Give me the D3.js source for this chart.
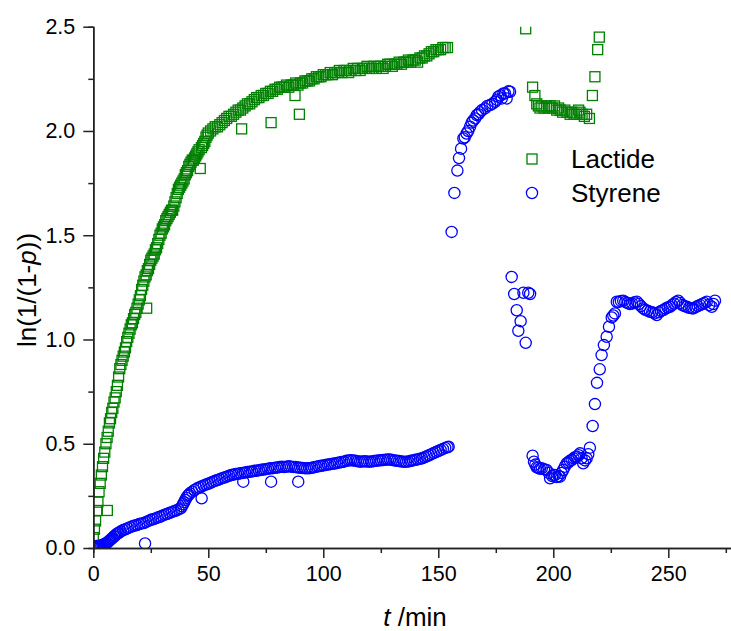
<!DOCTYPE html>
<html>
<head>
<meta charset="utf-8">
<script src="https://cdn.jsdelivr.net/npm/d3@7"></script>
<style>
body { margin: 0; background: #fff; }
text { font-family: "Liberation Sans", Arial, sans-serif; }
</style>
</head>
<body>
<svg id="chart" width="731" height="631"></svg>
<script>
// Lactide, [t (min), ln(1/(1-p))]
var lactide = [
  [0,0.05],[0.5,0.09],[1,0.13],[1.5,0.18],[2,0.22],[2.5,0.27],[3,0.31],[3.5,0.35],[4,0.39],[4.5,0.43],
  [5,0.46],[5.5,0.50],[6,0.53],[6.1,0.18],[6.5,0.56],[7,0.60],[7.5,0.62],[8,0.65],[8.5,0.67],[9,0.70],
  [9.5,0.72],[10,0.75],[10.5,0.78],[11,0.82],[11.5,0.86],[12,0.88],[12.5,0.90],[13,0.92],[13.5,0.94],[14,0.96],
  [14.5,0.99],[15,1.01],[15.5,1.03],[16,1.05],[16.5,1.07],[17,1.08],[17.5,1.10],[18,1.12],[18.5,1.13],[19,1.15],
  [19.5,1.17],[20,1.19],[20.5,1.21],[21,1.24],[21.5,1.26],[22,1.28],[22.5,1.30],[23,1.31],[23.2,1.15],[23.5,1.33],
  [24,1.34],[24.5,1.36],[25,1.38],[25.5,1.39],[26,1.40],[26.5,1.41],[27,1.43],[27.5,1.44],[28,1.46],[28.5,1.48],
  [29,1.50],[29.5,1.51],[30,1.53],[30.5,1.54],[31,1.55],[31.5,1.57],[32,1.58],[32.5,1.59],[33,1.60],[33.5,1.61],
  [34,1.62],[34.5,1.62],[35,1.64],[35.5,1.66],[36,1.68],[36.5,1.70],[37,1.72],[37.5,1.73],[38,1.74],[38.5,1.75],
  [39,1.76],[39.5,1.77],[40,1.79],[40.5,1.80],[41,1.81],[41.5,1.83],[42,1.84],[42.5,1.85],[43,1.86],[43.5,1.86],
  [44,1.87],[44.5,1.88],[45,1.89],[45.5,1.90],[46,1.91],[46.5,1.82],[47,1.92],[47.5,1.93],[48,1.94],[48.5,1.95],
  [49,1.97],[49.5,1.98],[50,1.99],[51,2.00],[52,2.01],[53,2.02],[54,2.02],[55,2.03],[56,2.04],[57,2.05],
  [58,2.06],[59,2.07],[60,2.07],[61,2.08],[62,2.09],[63,2.10],[64,2.10],[64.5,2.01],[65,2.11],[66,2.12],
  [67,2.13],[68,2.13],[69,2.14],[70,2.15],[71,2.16],[72,2.16],[73,2.17],[74,2.17],[75,2.18],[76,2.18],
  [77,2.19],[77.3,2.04],[78,2.19],[79,2.20],[80,2.20],[81,2.21],[82,2.21],[83,2.21],[84,2.22],[85,2.21],
  [86,2.22],[87,2.22],[87.7,2.17],[88,2.23],[89,2.22],[89.6,2.08],[90,2.23],[91,2.23],[92,2.24],[93,2.24],
  [94,2.24],[95,2.25],[96,2.25],[97,2.26],[98,2.26],[99,2.26],[100,2.27],[101,2.27],[102,2.27],[103,2.28],
  [104,2.27],[105,2.28],[106,2.28],[107,2.29],[108,2.28],[109,2.29],[110,2.29],[111,2.28],[112,2.29],[113,2.30],
  [114,2.29],[115,2.30],[116,2.29],[117,2.30],[118,2.30],[119,2.31],[120,2.30],[121,2.30],[122,2.31],[123,2.30],
  [124,2.31],[125,2.31],[126,2.30],[127,2.31],[128,2.32],[129,2.32],[130,2.31],[131,2.32],[132,2.32],[133,2.33],
  [134,2.32],[135,2.33],[136,2.33],[137,2.34],[138,2.33],[139,2.34],[140,2.34],[141,2.33],[142,2.35],[143,2.35],
  [144,2.36],[145,2.36],[146,2.37],[147,2.38],[148,2.38],[149,2.39],[150,2.39],[151,2.39],[152,2.40],[153,2.40],
  [154,2.40],
  [188,2.49],[191,2.21],[192,2.17],[192.8,2.13],[193.5,2.12],[194.2,2.11],[195,2.12],[196,2.11],[197,2.12],[198,2.11],
  [198.6,2.12],[199.5,2.11],[200.5,2.12],[201.5,2.10],[202.3,2.11],[203,2.10],[204,2.09],[205,2.10],[206,2.09],[207.3,2.08],
  [208,2.09],[209,2.08],[210,2.08],[211,2.10],[211.6,2.09],[212.5,2.08],[213.5,2.07],[214.5,2.08],[215.7,2.06],[217,2.17],
  [218.1,2.26],[219.3,2.39],[220,2.45]
];

// Styrene, [t (min), ln(1/(1-p))]
var styrene = [
  [0,0.0],[0.5,0.005],[1,0.005],[1.5,0.01],[2,0.01],[2.5,0.01],[3,0.01],[3.5,0.012],[4,0.015],[4.5,0.015],
  [5,0.02],[5.5,0.022],[6,0.025],[6.5,0.03],[7,0.035],[7.5,0.04],[8,0.045],[8.5,0.05],[9,0.055],[9.5,0.06],
  [10,0.065],[10.5,0.07],[11,0.072],[11.5,0.076],[12,0.08],[13,0.086],[14,0.09],[15,0.095],[16,0.10],[17,0.104],
  [18,0.108],[19,0.11],[20,0.115],[21,0.118],[22,0.12],[22.5,0.022],[23,0.125],[24,0.13],[25,0.135],[26,0.138],
  [27,0.142],[28,0.146],[29,0.15],[30,0.155],[31,0.16],[32,0.163],[33,0.168],[34,0.172],[35,0.176],[36,0.18],
  [37,0.185],[38,0.19],[38.5,0.20],[39,0.21],[39.5,0.22],[40,0.23],[40.5,0.24],[41,0.25],[41.5,0.255],[42,0.262],
  [43,0.27],[44,0.278],[45,0.285],[46,0.29],[47,0.295],[47.1,0.238],[48,0.30],[49,0.304],[50,0.308],[51,0.313],
  [52,0.318],[53,0.322],[54,0.326],[55,0.33],[56,0.335],[57,0.338],[58,0.342],[59,0.346],[60,0.35],[61,0.352],
  [62,0.355],[63,0.356],[64,0.358],[65,0.36],[65.2,0.318],[66,0.362],[67,0.364],[68,0.366],[69,0.367],[70,0.37],
  [71,0.371],[72,0.373],[73,0.375],[74,0.376],[75,0.378],[76,0.38],[77,0.382],[77.3,0.318],[78,0.383],[79,0.385],
  [80,0.386],[81,0.388],[82,0.39],[83,0.388],[84,0.39],[85,0.392],[86,0.39],[87,0.389],[88,0.388],[89,0.386],
  [89.1,0.318],[90,0.385],[91,0.384],[92,0.383],[93,0.382],[94,0.383],[95,0.385],[96,0.387],[97,0.39],[98,0.392],
  [99,0.394],[100,0.396],[101,0.398],[102,0.40],[103,0.402],[104,0.404],[105,0.405],[106,0.408],[107,0.41],[108,0.412],
  [109,0.414],[110,0.418],[111,0.42],[112,0.421],[113,0.42],[114,0.418],[115,0.416],[116,0.414],[117,0.415],[118,0.416],
  [119,0.415],[120,0.414],[121,0.415],[122,0.417],[123,0.418],[124,0.42],[125,0.421],[126,0.422],[127,0.423],[128,0.424],
  [129,0.424],[130,0.422],[131,0.42],[132,0.418],[133,0.417],[134,0.415],[135,0.414],[136,0.414],[137,0.415],[138,0.418],
  [139,0.42],[140,0.423],[141,0.425],[142,0.428],[143,0.43],[144,0.435],[145,0.44],[146,0.445],[147,0.45],[148,0.455],
  [149,0.46],[150,0.465],[151,0.47],[152,0.475],[153,0.48],[154,0.483],[154.5,0.486],
  [155.8,1.516],[157,1.703],[158.3,1.81],[159,1.87],[159.9,1.915],[160.9,1.964],[161.5,1.97],[162.3,1.988],[163,2.00],[163.8,2.02],
  [164.5,2.04],[165.2,2.05],[166,2.06],[166.7,2.076],[167.4,2.08],[168.1,2.09],[169,2.10],[170.3,2.108],[171.3,2.12],[172.5,2.124],
  [173.5,2.13],[174.7,2.14],[175.5,2.15],[176.1,2.164],[177,2.17],[177.6,2.156],[178.3,2.18],[179,2.18],[179.7,2.156],[180.5,2.19],
  [181.2,2.188],
  [181.9,1.30],[183,1.218],[184.1,1.14],[184.8,1.042],[185.8,1.088],[187,1.224],[188,0.984],[189.1,1.224],[189.9,1.218],
  [191,0.443],[191.6,0.414],[192.2,0.40],[192.8,0.387],[193.5,0.385],[194.2,0.38],[195,0.382],[196,0.378],[197.1,0.374],[198,0.36],
  [198.6,0.334],[199.5,0.345],[200.1,0.35],[200.7,0.35],[201.5,0.34],[202.3,0.345],[202.9,0.342],[203.6,0.36],[204.3,0.374],[205,0.39],
  [205.8,0.406],[206.5,0.41],[207.2,0.418],[208,0.422],[208.8,0.43],[209.5,0.435],[210.2,0.438],[211,0.445],[211.6,0.454],[212.3,0.43],
  [213,0.406],[213.8,0.42],[214.5,0.43],[215.2,0.45],[215.9,0.481],
  [217.1,0.585],[218.1,0.69],[219,0.792],[220.2,0.857],[221,0.925],[222,0.973],[223.2,1.013],[224.2,1.061],[225.4,1.106],[226.1,1.115],
  [226.8,1.125],[227.6,1.181],[228.5,1.18],[229.4,1.185],[230.4,1.186],[231.3,1.18],[232.3,1.175],[233.3,1.17],[234.3,1.172],[235.3,1.178],
  [236.3,1.181],[237.2,1.17],[238.1,1.16],[239.1,1.149],[240,1.142],[241,1.138],[242,1.133],[243,1.13],[244,1.125],[245,1.117],
  [246,1.13],[246.9,1.137],[247.8,1.141],[248.8,1.148],[249.7,1.153],[250.7,1.157],[251.6,1.165],[252.5,1.172],[253.4,1.18],[254.3,1.186],
  [255.2,1.175],[256.1,1.165],[257,1.16],[258,1.157],[259,1.152],[260,1.15],[260.9,1.149],[261.9,1.155],[262.8,1.16],[263.8,1.165],
  [264.8,1.17],[265.7,1.175],[266.7,1.181],[267.8,1.165],[268.9,1.157],[269.6,1.17],[270.3,1.186]
];

var xTicks = [0, 50, 100, 150, 200, 250];
var xMinor = [25, 75, 125, 175, 225, 275];
var yTicks = [0, 0.5, 1.0, 1.5, 2.0, 2.5];
var yMinor = [0.25, 0.75, 1.25, 1.75, 2.25];
var legendNames = ["Lactide", "Styrene"];

var svg = d3.select("#chart");

var x = d3.scaleLinear().domain([0, 278]).range([93.3, 732.7]);
var y = d3.scaleLinear().domain([0, 2.5]).range([548, 26.7]);

var green = "#008000", blue = "#0000ff";

// clip marks to the plot box
svg.append("clipPath").attr("id", "plotclip")
  .append("rect")
  .attr("x", x(0)).attr("y", y(2.5))
  .attr("width", 731 - x(0)).attr("height", y(0) - y(2.5));

var plot = svg.append("g").attr("clip-path", "url(#plotclip)");

var sq = 10;
plot.selectAll("rect.lac")
  .data(lactide)
  .enter()
  .append("rect")
  .attr("class", "lac")
  .attr("x", function(d) { return x(d[0]) - sq/2; })
  .attr("y", function(d) { return y(d[1]) - sq/2; })
  .attr("width", sq).attr("height", sq)
  .attr("fill", "none")
  .attr("stroke", green)
  .attr("stroke-width", 1.3);

plot.selectAll("circle.sty")
  .data(styrene)
  .enter()
  .append("circle")
  .attr("class", "sty")
  .attr("cx", function(d) { return x(d[0]); })
  .attr("cy", function(d) { return y(d[1]); })
  .attr("r", 5.6)
  .attr("fill", "none")
  .attr("stroke", blue)
  .attr("stroke-width", 1.3);

// axes
function styleAxis(g) {
  g.select(".domain").attr("stroke", "#222").attr("stroke-width", 1.5);
  g.selectAll(".tick line").attr("stroke", "#222").attr("stroke-width", 1.5);
  g.selectAll("text").attr("font-size", 21.5).attr("fill", "#000")
    .attr("font-family", "Liberation Sans, Arial, sans-serif");
}

var xAxisMinor = svg.append("g")
  .attr("transform", "translate(0," + y(0) + ")")
  .call(d3.axisBottom(x).tickValues(xMinor).tickSize(5).tickFormat(""));
styleAxis(xAxisMinor);

var xAxis = svg.append("g")
  .attr("transform", "translate(0," + y(0) + ")")
  .call(d3.axisBottom(x).tickValues(xTicks).tickSize(10).tickSizeOuter(0).tickPadding(8).tickFormat(d3.format("d")));
styleAxis(xAxis);

var yAxisMinor = svg.append("g")
  .attr("transform", "translate(" + x(0) + ",0)")
  .call(d3.axisLeft(y).tickValues(yMinor).tickSize(5).tickFormat(""));
styleAxis(yAxisMinor);

var yAxis = svg.append("g")
  .attr("transform", "translate(" + x(0) + ",0)")
  .call(d3.axisLeft(y).tickValues(yTicks).tickSize(10).tickSizeOuter(0).tickPadding(8).tickFormat(d3.format(".1f")));
styleAxis(yAxis);

// axis titles
var xt = svg.append("text")
  .attr("x", 415).attr("y", 626)
  .attr("text-anchor", "middle")
  .attr("font-size", 26);
xt.append("tspan").attr("font-style", "italic").text("t");
xt.append("tspan").text(" /min");

var yt = svg.append("text")
  .attr("transform", "translate(36,290) rotate(-90)")
  .attr("text-anchor", "middle")
  .attr("font-size", 26);
yt.append("tspan").text("ln(1/(1-");
yt.append("tspan").attr("font-style", "italic").text("p");
yt.append("tspan").text("))");

// legend
var leg = svg.append("g");
leg.append("rect")
  .attr("x", 532 - sq/2).attr("y", 159 - sq/2)
  .attr("width", sq).attr("height", sq)
  .attr("fill", "none").attr("stroke", green).attr("stroke-width", 1.3);
leg.append("circle")
  .attr("cx", 532).attr("cy", 193).attr("r", 5.6)
  .attr("fill", "none").attr("stroke", blue).attr("stroke-width", 1.3);
leg.selectAll("text")
  .data(legendNames)
  .enter()
  .append("text")
  .attr("x", 571)
  .attr("y", function(d, i) { return 168 + i * 34; })
  .attr("font-size", 26)
  .text(function(d) { return d; });
</script>
</body>
</html>
